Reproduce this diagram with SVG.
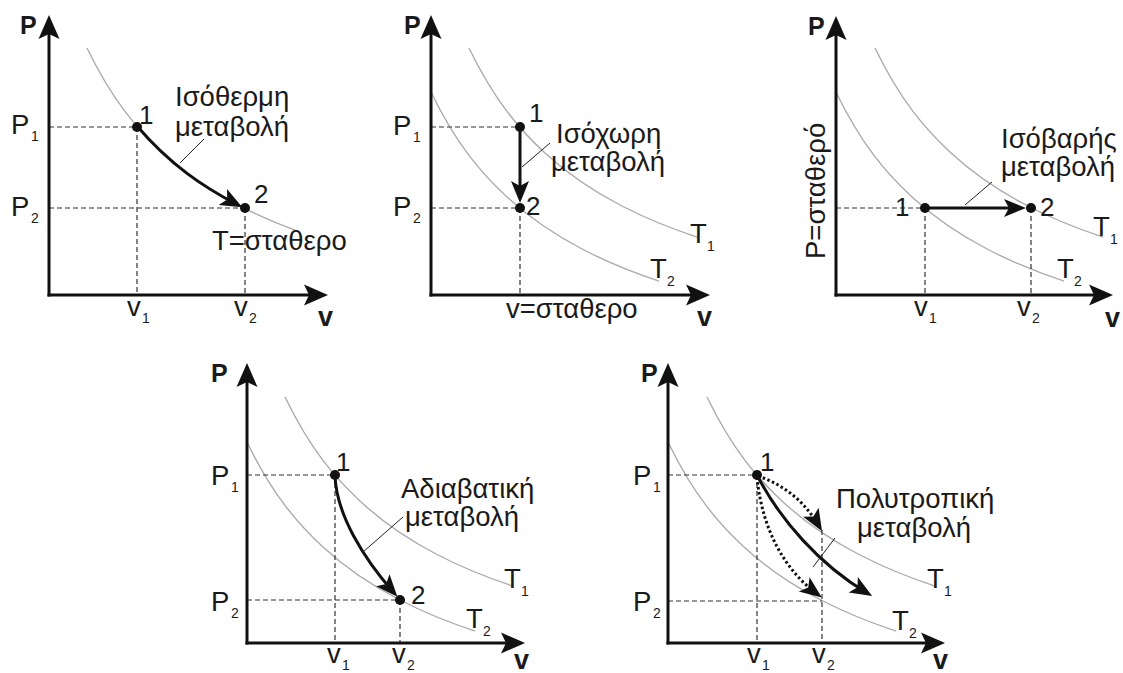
<svg xmlns="http://www.w3.org/2000/svg" xmlns:xlink="http://www.w3.org/1999/xlink" width="1123" height="673" viewBox="0 0 1123 673">
<style>
text{font-family:"Liberation Sans",Arial,sans-serif;fill:#1a1a1a}
.lb{font-size:27.5px}
.sb{font-size:14px}
.num{font-size:26px}
.ax{font-size:25px;font-weight:bold}
.axv{font-size:27px;font-weight:bold}
.axis{stroke:#111;stroke-width:3;fill:none;marker-end:url(#ah)}
.iso{stroke:#ababab;stroke-width:1.4;fill:none}
.dash{stroke:#333;stroke-width:1.2;stroke-dasharray:5 3;fill:none}
.proc{stroke:#111;stroke-width:3;fill:none;marker-end:url(#ph)}
.dot3{stroke:#111;stroke-width:3;fill:none;stroke-dasharray:2.5 2.5;marker-end:url(#ph)}
.lead{stroke:#222;stroke-width:1;fill:none}
.pt{fill:#111}
</style>
<defs>
<marker id="ah" markerUnits="userSpaceOnUse" viewBox="-24 -14 34 28" markerWidth="34" markerHeight="28" refX="0" refY="0" orient="auto">
<path d="M6,0 L-18,-10.5 L-13,0 L-18,10.5 Z" fill="#111"/>
</marker>
<marker id="ph" markerUnits="userSpaceOnUse" viewBox="-22 -13 32 26" markerWidth="32" markerHeight="26" refX="0" refY="0" orient="auto">
<path d="M6,0 L-16,-9 L-11,0 L-16,9 Z" fill="#111"/>
</marker>
<path id="isoL" d="M0,0 C25.33,52.5 50.67,81.66 76,105 C101.33,128.34 126.67,144.37 152,157.5 C177.33,170.63 202.67,180.7 228,189.1"/>
<path id="isoS" d="M0,0 C25.33,52.5 50.67,81.66 76,105 C101.33,128.34 126.67,144.37 152,157.5 C171.33,167.52 190.67,175.73 210,182.8"/>
</defs>

<!-- Panel 1: isothermal -->
<g id="panel-isothermal">
<use xlink:href="#isoS" class="iso" transform="translate(87,48)"/>
<path class="dash" d="M49,127 H137 M49,208 H245 M137,127 V295 M245,208 V295"/>
<line class="axis" x1="49" y1="296.5" x2="49" y2="21"/>
<line class="axis" x1="47.5" y1="295" x2="322" y2="295"/>
<text class="ax" x="20" y="34">P</text>
<text class="axv" x="318" y="326">v</text>
<text class="lb" x="11" y="134">P</text><text class="sb" x="31" y="141">1</text>
<text class="lb" x="11" y="216">P</text><text class="sb" x="31" y="223">2</text>
<text class="lb" x="127" y="316">v</text><text class="sb" x="142" y="323">1</text>
<text class="lb" x="234" y="316">v</text><text class="sb" x="249" y="323">2</text>
<path class="proc" d="M137,126 C170.3,165.1 203.7,187 237,204.5"/>
<line class="lead" x1="180" y1="163" x2="204" y2="139"/>
<circle class="pt" cx="137" cy="127" r="5"/>
<circle class="pt" cx="245" cy="208" r="5"/>
<text class="num" x="139" y="124">1</text>
<text class="num" x="254" y="203">2</text>
<text class="lb" x="175" y="106">Ισόθερμη</text>
<text class="lb" x="175" y="136">μεταβολή</text>
<text class="lb" x="212" y="250">T=σταθερο</text>
</g>

<!-- Panel 2: isochoric -->
<g id="panel-isochoric">
<use xlink:href="#isoL" class="iso" transform="translate(469,48)"/>
<use xlink:href="#isoL" class="iso" transform="translate(431,92)"/>
<path class="dash" d="M431,127 H520 M431,208 H520 M520,208 V295"/>
<line class="axis" x1="431" y1="296.5" x2="431" y2="21"/>
<line class="axis" x1="429.5" y1="295" x2="704" y2="295"/>
<text class="ax" x="404" y="34">P</text>
<text class="axv" x="697" y="326">v</text>
<text class="lb" x="393" y="135">P</text><text class="sb" x="413" y="142">1</text>
<text class="lb" x="393" y="216">P</text><text class="sb" x="413" y="223">2</text>
<path class="proc" d="M520,127 V197"/>
<line class="lead" x1="522" y1="167" x2="550" y2="143"/>
<circle class="pt" cx="520" cy="127" r="5"/>
<circle class="pt" cx="520" cy="208" r="5"/>
<text class="num" x="529" y="122">1</text>
<text class="num" x="526" y="215">2</text>
<text class="lb" x="556" y="143">Ισόχωρη</text>
<text class="lb" x="551" y="171">μεταβολή</text>
<text class="lb" x="690" y="243">T</text><text class="sb" x="707" y="251">1</text>
<text class="lb" x="650" y="278">T</text><text class="sb" x="667" y="286">2</text>
<text class="lb" x="506" y="318">v=σταθερο</text>
</g>

<!-- Panel 3: isobaric -->
<g id="panel-isobaric">
<use xlink:href="#isoL" class="iso" transform="translate(875,48)"/>
<use xlink:href="#isoL" class="iso" transform="translate(836,92)"/>
<path class="dash" d="M836,208 H925 M925,208 V295 M1031,208 V295"/>
<line class="axis" x1="836" y1="296.5" x2="836" y2="22"/>
<line class="axis" x1="834.5" y1="295" x2="1107" y2="295"/>
<text class="ax" x="808" y="35">P</text>
<text class="axv" x="1105" y="327">v</text>
<text class="lb" transform="translate(825,259) rotate(-90)">P=σταθερό</text>
<text class="lb" x="914" y="316">v</text><text class="sb" x="929" y="323">1</text>
<text class="lb" x="1017" y="316">v</text><text class="sb" x="1032" y="323">2</text>
<path class="proc" d="M925,208 H1020"/>
<line class="lead" x1="965" y1="205" x2="992" y2="182"/>
<circle class="pt" cx="925" cy="208" r="5"/>
<circle class="pt" cx="1031" cy="208" r="5"/>
<text class="num" x="895" y="216">1</text>
<text class="num" x="1040" y="216">2</text>
<text class="lb" x="1001" y="148">Ισόβαρής</text>
<text class="lb" x="1001" y="176">μεταβολή</text>
<text class="lb" x="1093" y="236">T</text><text class="sb" x="1110" y="244">1</text>
<text class="lb" x="1057" y="278">T</text><text class="sb" x="1074" y="286">2</text>
</g>

<!-- Panel 4: adiabatic -->
<g id="panel-adiabatic">
<use xlink:href="#isoL" class="iso" transform="translate(285,397)"/>
<use xlink:href="#isoL" class="iso" transform="translate(247,442)"/>
<path class="dash" d="M247,475 H335 M247,600 H400 M335,475 V643 M400,600 V643"/>
<line class="axis" x1="247" y1="644.5" x2="247" y2="369"/>
<line class="axis" x1="245.5" y1="643" x2="519" y2="643"/>
<text class="ax" x="211" y="382">P</text>
<text class="axv" x="514" y="669">v</text>
<text class="lb" x="211" y="485">P</text><text class="sb" x="231" y="492">1</text>
<text class="lb" x="211" y="611">P</text><text class="sb" x="231" y="618">2</text>
<text class="lb" x="327" y="663">v</text><text class="sb" x="342" y="670">1</text>
<text class="lb" x="392" y="663">v</text><text class="sb" x="407" y="670">2</text>
<path class="proc" d="M335,475 C336,515 365,560 393.4,592.2"/>
<line class="lead" x1="363" y1="552" x2="403" y2="517"/>
<circle class="pt" cx="335" cy="475" r="5"/>
<circle class="pt" cx="400" cy="600" r="5"/>
<text class="num" x="336" y="471">1</text>
<text class="num" x="411" y="604">2</text>
<text class="lb" x="401" y="498">Αδιαβατική</text>
<text class="lb" x="405" y="526">μεταβολή</text>
<text class="lb" x="504" y="588">T</text><text class="sb" x="521" y="596">1</text>
<text class="lb" x="466" y="628">T</text><text class="sb" x="483" y="636">2</text>
</g>

<!-- Panel 5: polytropic -->
<g id="panel-polytropic">
<use xlink:href="#isoL" class="iso" transform="translate(707,397)"/>
<use xlink:href="#isoL" class="iso" transform="translate(668,442)"/>
<path class="dash" d="M668,475 H757 M668,601 H822 M757,475 V643 M822,530 V643"/>
<line class="axis" x1="668" y1="644.5" x2="668" y2="369"/>
<line class="axis" x1="666.5" y1="643" x2="939" y2="643"/>
<text class="ax" x="641" y="382">P</text>
<text class="axv" x="933" y="669">v</text>
<text class="lb" x="633" y="485">P</text><text class="sb" x="653" y="492">1</text>
<text class="lb" x="633" y="611">P</text><text class="sb" x="653" y="618">2</text>
<text class="lb" x="747" y="663">v</text><text class="sb" x="762" y="670">1</text>
<text class="lb" x="812" y="663">v</text><text class="sb" x="827" y="670">2</text>
<path class="dot3" d="M758,476 C787,486 806,504 819,526"/>
<path class="dot3" d="M757,477 C762,530 785,570 817,594"/>
<path class="proc" d="M757,475 C780,520 820,565 867,593"/>
<line class="lead" x1="813" y1="567" x2="835" y2="538"/>
<circle class="pt" cx="757" cy="475" r="5"/>
<text class="num" x="760" y="471">1</text>
<text class="lb" x="836" y="508">Πολυτροπική</text>
<text class="lb" x="857" y="537">μεταβολή</text>
<text class="lb" x="927" y="588">T</text><text class="sb" x="944" y="596">1</text>
<text class="lb" x="892" y="630">T</text><text class="sb" x="909" y="638">2</text>
</g>
</svg>
